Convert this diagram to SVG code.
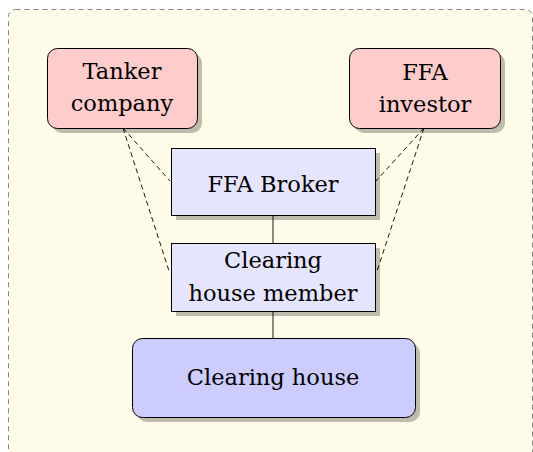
<svg xmlns="http://www.w3.org/2000/svg" width="533" height="452" viewBox="0 0 533 452">
  <style>
    text { font-family: "DejaVu Serif", serif; font-size: 22.5px; fill: #000; text-anchor: middle; }
    .shadow { fill: #000; opacity: 0.25; }
    .box { stroke: #000; stroke-width: 1; }
    .party { fill: #ffcccc; }
    .inter { fill: #e5e5ff; }
    .house { fill: #ccccff; }
    .link { stroke: #000; stroke-width: 0.9; fill: none; }
    .dash { stroke-dasharray: 5 3.5; }
  </style>

  <!-- backdrop panel -->
  <rect x="8.5" y="9.5" width="524" height="460" rx="7" fill="#fffbe9" stroke="#888" stroke-width="1" stroke-dasharray="5 4"/>

  <g id="connectors">
    <line class="link dash" x1="123" y1="128" x2="170" y2="181"/>
    <line class="link dash" x1="123" y1="128" x2="169" y2="271"/>
    <line class="link dash" x1="424" y1="128" x2="376" y2="181"/>
    <line class="link dash" x1="424" y1="128" x2="377" y2="271"/>
    <line class="link" x1="273" y1="215" x2="273" y2="243"/>
    <line class="link" x1="273" y1="311" x2="273" y2="338"/>
  </g>

  <g id="tanker-company">
    <rect class="shadow" x="52" y="53" width="150" height="80" rx="10"/>
    <rect class="box party" x="47.5" y="48.5" width="150" height="80" rx="10"/>
    <text x="122" y="79">Tanker</text>
    <text x="122" y="111">company</text>
  </g>

  <g id="ffa-investor">
    <rect class="shadow" x="354" y="53" width="151" height="80" rx="10"/>
    <rect class="box party" x="349.5" y="48.5" width="151" height="80" rx="10"/>
    <text x="425" y="80">FFA</text>
    <text x="425" y="112">investor</text>
  </g>

  <g id="ffa-broker">
    <rect class="shadow" x="176" y="153" width="204" height="67"/>
    <rect class="box inter" x="171.5" y="148.5" width="204" height="67"/>
    <text x="273" y="192">FFA Broker</text>
  </g>

  <g id="clearing-house-member">
    <rect class="shadow" x="176" y="248" width="204" height="68"/>
    <rect class="box inter" x="171.5" y="243.5" width="204" height="68"/>
    <text x="273" y="268">Clearing</text>
    <text x="273" y="301">house member</text>
  </g>

  <g id="clearing-house">
    <rect class="shadow" x="137" y="343" width="283" height="79" rx="10"/>
    <rect class="box house" x="132.5" y="338.5" width="283" height="79" rx="10"/>
    <text x="273" y="385">Clearing house</text>
  </g>
</svg>
